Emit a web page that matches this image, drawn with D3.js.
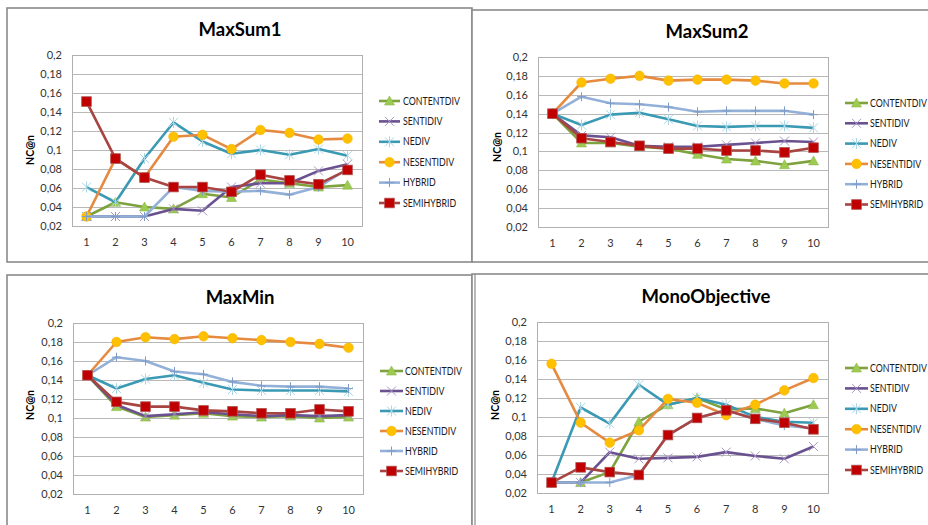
<!DOCTYPE html>
<html><head><meta charset="utf-8">
<script src="https://cdn.jsdelivr.net/npm/d3@7"></script>
<style>body{margin:0;background:#fff;}svg{display:block;}</style>
</head><body>
<svg id="c" width="928" height="525"></svg>
<script>
const categories = [1,2,3,4,5,6,7,8,9,10];
const seriesNames = ["CONTENTDIV","SENTIDIV","NEDIV","NESENTIDIV","HYBRID","SEMIHYBRID"];
const yTicks = [0.02,0.04,0.06,0.08,0.1,0.12,0.14,0.16,0.18,0.2];
const yTickLabels = ["0,02","0,04","0,06","0,08","0,1","0,12","0,14","0,16","0,18","0,2"];
const panelTitles = ["MaxSum1","MaxSum2","MaxMin","MonoObjective"];

// values per series, in seriesNames order
const maxSum1 = [
  [0.030,0.045,0.040,0.038,0.054,0.050,0.069,0.065,0.061,0.063],
  [0.030,0.030,0.030,0.038,0.036,0.061,0.065,0.065,0.078,0.085],
  [0.061,0.045,0.091,0.129,0.109,0.096,0.100,0.095,0.101,0.094],
  [0.030,0.091,0.071,0.114,0.116,0.101,0.121,0.118,0.111,0.112],
  [0.030,0.030,0.030,0.061,0.057,0.056,0.057,0.053,0.061,0.080],
  [0.151,0.091,0.071,0.061,0.061,0.056,0.074,0.068,0.064,0.079]
];
const maxSum2 = [
  [0.140,0.109,0.109,0.105,0.103,0.097,0.092,0.090,0.086,0.090],
  [0.140,0.117,0.115,0.106,0.105,0.105,0.107,0.109,0.111,0.110],
  [0.140,0.128,0.139,0.141,0.134,0.127,0.126,0.127,0.127,0.125],
  [0.140,0.173,0.177,0.180,0.175,0.176,0.176,0.175,0.172,0.172],
  [0.140,0.158,0.151,0.150,0.147,0.142,0.143,0.143,0.143,0.139],
  [0.140,0.114,0.110,0.106,0.103,0.103,0.101,0.101,0.099,0.104]
];
const maxMin = [
  [0.145,0.112,0.101,0.103,0.105,0.102,0.101,0.102,0.100,0.101],
  [0.145,0.114,0.102,0.104,0.106,0.104,0.102,0.103,0.102,0.103],
  [0.145,0.131,0.141,0.145,0.137,0.130,0.129,0.129,0.129,0.128],
  [0.145,0.180,0.185,0.183,0.186,0.184,0.182,0.180,0.178,0.174],
  [0.145,0.164,0.160,0.149,0.146,0.138,0.134,0.133,0.133,0.131],
  [0.145,0.117,0.112,0.112,0.108,0.107,0.105,0.105,0.109,0.107]
];
const monoObjective = [
  [0.031,0.031,0.042,0.095,0.113,0.120,0.108,0.109,0.104,0.113],
  [0.031,0.031,0.063,0.056,0.057,0.058,0.063,0.059,0.056,0.069],
  [0.031,0.110,0.093,0.134,0.113,0.120,0.113,0.100,0.095,0.094],
  [0.156,0.094,0.073,0.086,0.119,0.115,0.102,0.113,0.128,0.141],
  [0.031,0.031,0.031,0.039,0.081,0.099,0.107,0.098,0.091,0.088],
  [0.031,0.047,0.042,0.039,0.081,0.099,0.107,0.098,0.094,0.087]
];
const panelData = [maxSum1, maxSum2, maxMin, monoObjective];

const lineColors   = ["#7DA23E","#6A5190","#3A9AB4","#E58A3E","#93B1D8","#A84542"];
const markerFills  = ["#9CCB50","#A896C6","#A9D6E4","#FFC000","#93B1D8","#C00000"];
const markerShapes = ["triangle","x","star","circle","plus","square"];

const layouts = [
  {border:[7,8,472,262], plot:[72,362,55,226], title:[240,36], ylab:[30,150], leg:[379,400,403,101,20.4]},
  {border:[472,10,940,262], plot:[538,828,57,227], title:[707,38], ylab:[497,147], leg:[845,868,870,103,20.3]},
  {border:[7,275,472,540], plot:[73,363,323,494], title:[240,304], ylab:[30,405], leg:[380,403,405,371,20.0]},
  {border:[472,274,940,540], plot:[537,828,322,493], title:[706,303], ylab:[495,405], leg:[845,868,870,368,20.4]}
];

const svg = d3.select("#c");
const font = "Lato, 'Open Sans', sans-serif";

function drawMarker(g, shape, x, y, i) {
  const s = 4.5;
  if (shape === "triangle") {
    g.append("path").attr("d", `M${x},${y-s-0.5}L${x+s+0.5},${y+s-0.5}L${x-s-0.5},${y+s-0.5}Z`)
      .attr("fill", markerFills[i]).attr("stroke","#8DB84A").attr("stroke-width",0.6);
  } else if (shape === "circle") {
    g.append("circle").attr("cx",x).attr("cy",y).attr("r",4.8)
      .attr("fill", markerFills[i]).attr("stroke","#F5B400").attr("stroke-width",0.6);
  } else if (shape === "square") {
    g.append("rect").attr("x",x-4.8).attr("y",y-4.8).attr("width",9.6).attr("height",9.6)
      .attr("fill", markerFills[i]).attr("stroke","#B05050").attr("stroke-width",0.8);
  } else if (shape === "x") {
    g.append("path").attr("d", `M${x-s},${y-s}L${x+s},${y+s}M${x-s},${y+s}L${x+s},${y-s}`)
      .attr("stroke", markerFills[i]).attr("stroke-width",1).attr("fill","none");
  } else if (shape === "star") {
    g.append("path").attr("d", `M${x-s},${y-s}L${x+s},${y+s}M${x-s},${y+s}L${x+s},${y-s}M${x},${y-s-1}L${x},${y+s+1}`)
      .attr("stroke", markerFills[i]).attr("stroke-width",1).attr("fill","none");
  } else if (shape === "plus") {
    g.append("path").attr("d", `M${x-s},${y}L${x+s},${y}M${x},${y-s}L${x},${y+s}`)
      .attr("stroke", "#7F9CC8").attr("stroke-width",1).attr("fill","none");
  }
}

layouts.forEach((L, p) => {
  const g = svg.append("g");
  const [bx0, by0, bx1, by1] = L.border;
  g.append("rect").attr("x",bx0).attr("y",by0).attr("width",bx1-bx0).attr("height",by1-by0)
    .attr("fill","#fff").attr("stroke","#8a8a8a").attr("stroke-width",1.6);
  if (p === 3) {
    g.append("line").attr("x1",bx0+3).attr("x2",bx0+3).attr("y1",by0).attr("y2",by1)
      .attr("stroke","#8a8a8a").attr("stroke-width",1.2);
  }
  const [pl, pr, pt, pb] = L.plot;
  const x = d3.scaleBand().domain(categories).range([pl, pr]);
  const y = d3.scaleLinear().domain([0.02, 0.2]).range([pb, pt]);

  g.append("g").selectAll("line").data(yTicks).join("line")
    .attr("x1", pl).attr("x2", pr)
    .attr("y1", d => Math.round(y(d))+0.5).attr("y2", d => Math.round(y(d))+0.5)
    .attr("stroke", "#b8b8b8").attr("stroke-width", 1.2);
  g.append("rect").attr("x",pl+0.5).attr("y",pt+0.5).attr("width",pr-pl).attr("height",pb-pt)
    .attr("fill","none").attr("stroke","#b0b0b0").attr("stroke-width",1);

  const yAxis = d3.axisLeft(y).tickValues(yTicks).tickFormat((d,i) => yTickLabels[i]).tickSize(0).tickPadding(10);
  const ya = g.append("g").attr("transform",`translate(${pl},0)`).call(yAxis);
  ya.select(".domain").remove();
  ya.selectAll("text").attr("font-family", font).attr("font-size", 11).attr("fill","#333");

  const xAxis = d3.axisBottom(x).tickSize(0).tickPadding(12);
  const xa = g.append("g").attr("transform",`translate(0,${pb})`).call(xAxis);
  xa.select(".domain").remove();
  xa.selectAll("text").attr("font-family", font).attr("font-size", 11).attr("fill","#333");

  g.append("text").attr("x", L.title[0]).attr("y", L.title[1]).attr("text-anchor","middle")
    .attr("font-family", font).attr("font-weight","bold").attr("font-size", 18.5).attr("fill","#000")
    .text(panelTitles[p]);
  g.append("text").attr("transform",`translate(${L.ylab[0]},${L.ylab[1]}) rotate(-90)`)
    .attr("text-anchor","middle").attr("dy","0.35em")
    .attr("font-family", font).attr("font-weight","bold").attr("font-size", 10.5).attr("fill","#000")
    .text("NC@n");

  const line = d3.line().x((d,i) => x(categories[i]) + x.bandwidth()/2).y(d => y(d));
  panelData[p].forEach((vals, i) => {
    const sg = g.append("g");
    sg.append("path").attr("d", line(vals)).attr("fill","none")
      .attr("stroke", lineColors[i]).attr("stroke-width", 2.6).attr("stroke-linejoin","round");
    vals.forEach((v, j) => drawMarker(sg, markerShapes[i], x(categories[j]) + x.bandwidth()/2, y(v), i));
  });

  const [lx0, lx1, tx, ly0, lstep] = L.leg;
  seriesNames.forEach((name, i) => {
    const yy = ly0 + i*lstep;
    g.append("line").attr("x1",lx0).attr("x2",lx1).attr("y1",yy).attr("y2",yy)
      .attr("stroke", lineColors[i]).attr("stroke-width",2.6);
    drawMarker(g, markerShapes[i], (lx0+lx1)/2, yy, i);
    g.append("text").attr("transform", `translate(${tx},${yy}) scale(0.84,1)`).attr("dy","0.35em")
      .attr("font-family", font).attr("font-size", 10.5).attr("fill","#1a1a1a").text(name);
  });
});
</script>
</body></html>
